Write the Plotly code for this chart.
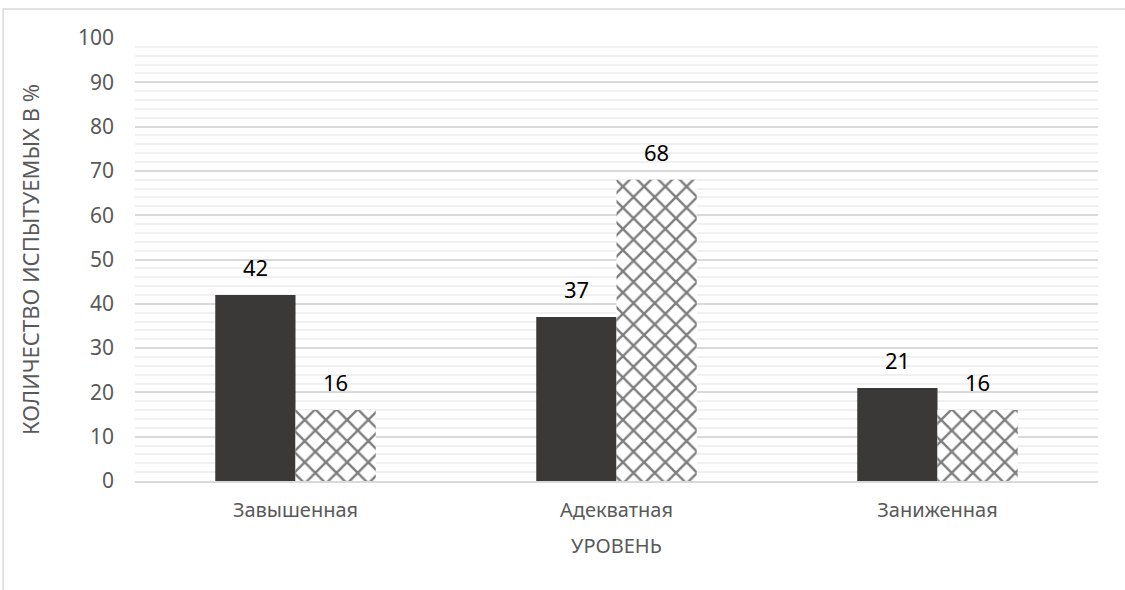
import plotly.graph_objects as go

categories = ["Завышенная", "Адекватная", "Заниженная"]
series_a = [42, 37, 21]
series_b = [16, 68, 16]
y_ticks = list(range(0, 101, 10))

FONT = "Noto Sans"
TICK_GRAY = "#595959"

fig = go.Figure()
fig.add_trace(go.Bar(
    x=categories, y=series_a, name="A",
    marker=dict(color="#3b3838", line=dict(width=0)),
))
fig.add_trace(go.Bar(
    x=categories, y=series_b, name="B",
    marker=dict(
        color="white",
        line=dict(width=0),
        pattern=dict(shape="x", fgcolor="#000000", bgcolor="white",
                     size=15, solidity=0.3, fillmode="overlay"),
    ),
))

# value labels above each bar
for vals, shift in ((series_a, -40), (series_b, 40)):
    for c, v in zip(categories, vals):
        fig.add_annotation(x=c, y=v, text=str(v), showarrow=False,
                           xshift=shift, yshift=28, yanchor="middle",
                           font=dict(family=FONT, size=22, color="#000000"))

# outer chart frame
fig.add_shape(type="rect", xref="paper", yref="paper",
              x0=-0.137, x1=1.2, y0=-0.4, y1=1.0655,
              line=dict(color="#d9d9d9", width=1.5), layer="below")

fig.update_layout(
    width=1125, height=590,
    margin=dict(l=135, r=27, t=38, b=109),
    paper_bgcolor="white", plot_bgcolor="white",
    showlegend=False,
    barmode="group", bargap=0.5, bargroupgap=0,
    font=dict(family=FONT, color=TICK_GRAY),
    xaxis=dict(
        title=dict(text="УРОВЕНЬ", font=dict(size=20, color=TICK_GRAY), standoff=17),
        tickfont=dict(size=20, color=TICK_GRAY),
        showline=True, linecolor="#d9d9d9", linewidth=1.5,
        ticks="", showgrid=False, ticklabelstandoff=10,
    ),
    yaxis=dict(
        title=dict(text="КОЛИЧЕСТВО ИСПЫТУЕМЫХ В %", font=dict(size=22, color=TICK_GRAY), standoff=32),
        range=[0, 100], tickvals=y_ticks,
        tickfont=dict(size=21, color=TICK_GRAY),
        showgrid=True, gridcolor="#d9d9d9", gridwidth=1.5,
        minor=dict(dtick=2, showgrid=True, gridcolor="#f0f0f0", gridwidth=1.5),
        zeroline=False, ticks="", ticklabelstandoff=20,
    ),
)

fig.write_html("out.html")
